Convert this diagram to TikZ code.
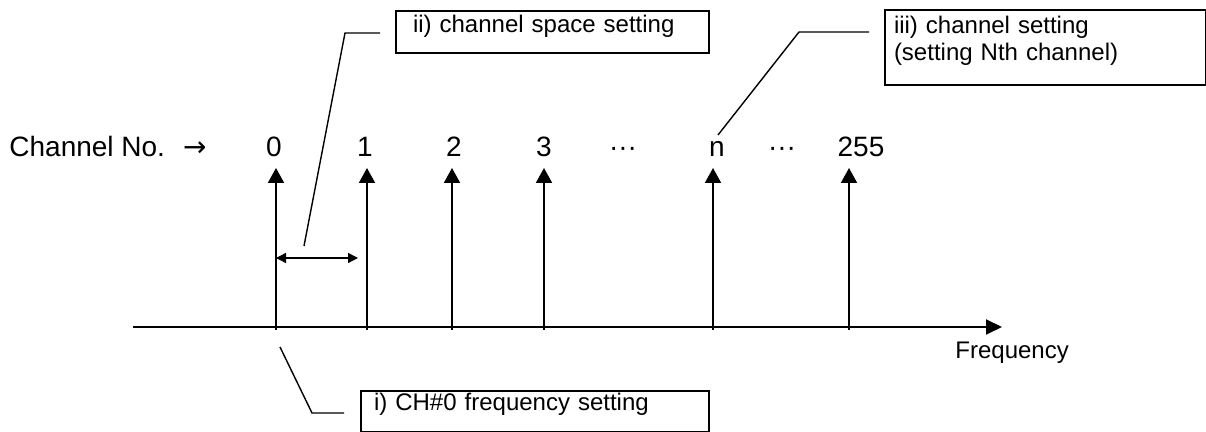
\documentclass[tikz,border=0pt]{standalone}
\usepackage{fontspec}
\setmainfont{Liberation Sans}
\newfontfamily\arrowfont{DejaVu Sans}
\usetikzlibrary{arrows.meta, positioning}

\begin{document}
\begin{tikzpicture}[x=0.5pt, y=-0.5pt,
    chstem/.style={line width=1pt, -{Triangle[length=7.5pt, width=8pt]}},
    numlabel/.style={font=\fontsize{14}{17}\selectfont, anchor=base, inner sep=0pt},
    callout/.style={draw, line width=1pt, anchor=north west, inner ysep=0pt,
      align=left, font=\fontsize{12}{13.5}\selectfont},
    leader/.style={line width=0.7pt}]

  \useasboundingbox (0,0) rectangle (1206,432);

  %% Channel numbers and stems
  \node[numlabel, anchor=base west] (chno) at (9,157) {Channel No. \ {\arrowfont →}};
  \foreach \x/\lx/\n in {276/274/0, 367/365/1, 452/454/2, 544/544/3, 713/717/n, 849/861/255}{
    \node[numlabel] (num\n) at (\lx,157) {\n};
    \coordinate (bot\n) at (\x,330);
    \coordinate (top\n) at (\x,168);
    \draw[chstem] (bot\n) -- (top\n);
  }
  \node[numlabel] (dotsa) at (623,157) {···};
  \node[numlabel] (dotsb) at (782,157) {···};

  %% Frequency axis
  \coordinate (axstart) at (133,327);
  \coordinate (axend) at (1002,327);
  \draw[line width=1pt, -{Triangle[length=8pt, width=7.5pt]}] (axstart) -- (axend);
  \node[font=\fontsize{12}{14}\selectfont, anchor=base west, inner sep=0pt] (freq) at (955,359) {Frequency};

  %% Channel spacing
  \coordinate (spa) at (276,258);
  \coordinate (spb) at (358,258);
  \draw[line width=0.7pt, {Triangle[length=5pt, width=5pt]}-{Triangle[length=5pt, width=5pt]}] (spa) -- (spb);

  %% Callouts
  \node[callout, inner xsep=8.5pt, text width=139.5pt, text height=11pt, text depth=10pt]
    (boxii) at (395,10) {ii) channel space setting};
  \node[callout, inner xsep=4.5pt, text width=151.5pt, text height=12pt, text depth=25.5pt]
    (boxiii) at (884,9) {iii) channel setting\\(setting Nth channel)};
  \node[callout, inner xsep=6.5pt, text width=161pt, text height=10pt, text depth=10.5pt]
    (boxi) at (360,390) {i) CH\#0 frequency setting};

  %% Leader lines
  \coordinate (ldii) at (304,246);
  \coordinate (kneeii) at (345,33);
  \coordinate (endii) at (380,33);
  \draw[leader] (ldii) -- (kneeii) -- (endii);
  \coordinate (ldiii) at (718,135);
  \coordinate (kneeiii) at (799,32);
  \coordinate (endiii) at (869,32);
  \draw[leader] (ldiii) -- (kneeiii) -- (endiii);
  \coordinate (ldi) at (280,347);
  \coordinate (kneei) at (312,413);
  \coordinate (endi) at (344,413);
  \draw[leader] (ldi) -- (kneei) -- (endi);

\end{tikzpicture}
\end{document}
